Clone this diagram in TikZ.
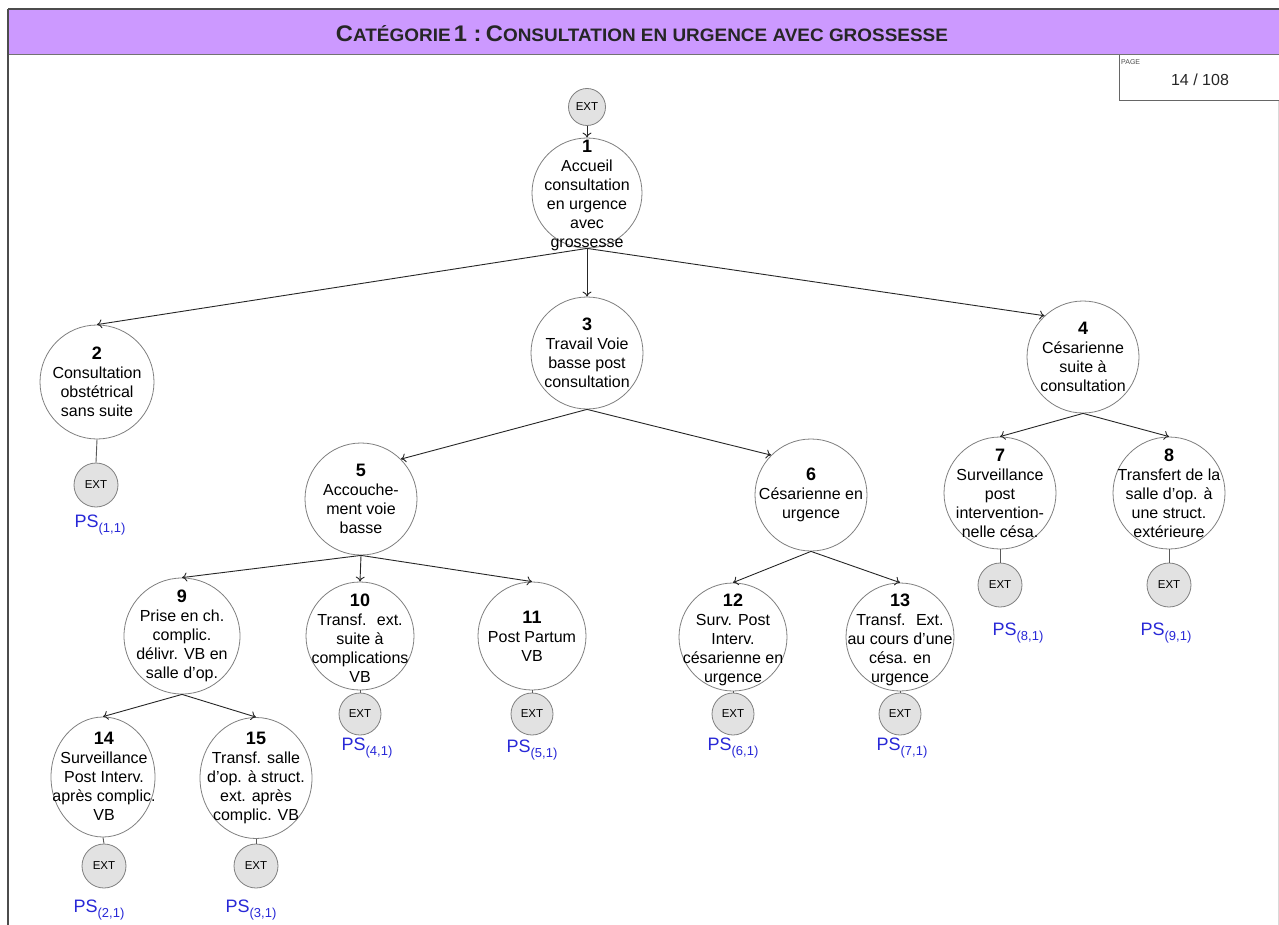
\documentclass[tikz,border=0pt]{standalone}
\usepackage{fontspec}
\setmainfont{Liberation Sans}
\usetikzlibrary{arrows.meta,shapes.geometric}
\definecolor{hdr}{RGB}{204,153,255}
\definecolor{psblue}{RGB}{40,40,215}
\definecolor{extfill}{RGB}{226,226,226}
\tikzset{
 circ/.style={circle,draw=black!50,line width=0.8pt,fill=white,minimum size=112pt,inner sep=0pt},
 ovl/.style={ellipse,draw=black!50,line width=0.8pt,fill=white,inner sep=0pt},
 ext/.style={circle,draw=black!50,line width=0.8pt,fill=extfill,minimum size=42pt,inner sep=0pt,font=\fontsize{11.5}{12}\selectfont},
 txt/.style={align=center,font=\fontsize{16}{19}\selectfont,inner sep=0pt},
 arr/.style={-{To[length=5pt,width=9pt]},line width=0.9pt,draw=black!85},
 lnk/.style={line width=0.9pt,draw=black!65},
 ps/.style={text=psblue,inner sep=0pt}
}
\newcommand\nb[1]{{\fontsize{18}{20}\selectfont\bfseries #1}}
\newcommand\psl[1]{{\fontsize{18}{18}\selectfont PS}\raisebox{-4.5pt}{\fontsize{13}{13}\selectfont(#1)}}
\newcommand\sca[2]{{\fontsize{20}{20}\selectfont #1}{\fontsize{16}{16}\selectfont #2}}
\begin{document}
\begin{tikzpicture}[x=1pt,y=-1pt]
\useasboundingbox (0,0) rectangle (1279,925);
\fill[white] (0,0) rectangle (1279,925);
% header
\fill[hdr] (8,9) rectangle (1279,55);
\draw[black!70,line width=1.5pt] (8,9) -- (1279,9);
\draw[black!55,line width=1pt] (8,55) -- (1279,55);
\draw[black!70,line width=1.5pt] (8,9) -- (8,925);
\draw[black!15,line width=1pt] (1278,101) -- (1278,925);
\node[inner sep=0pt,anchor=south,text=black!85] (title) at (642,42) {\resizebox{612pt}{16pt}{\bfseries\sca{C}{ATÉGORIE} {\fontsize{20}{20}\selectfont 1 :} \sca{C}{ONSULTATION EN URGENCE AVEC GROSSESSE}}};
% page box
\draw[black!60,line width=1pt] (1280,101) -- (1119,101) -- (1119,55);
\node[anchor=north west,inner sep=0pt,font=\fontsize{7}{8}\selectfont,text=black!70] (pg) at (1121,59) {PAGE};
\node[inner sep=0pt,font=\fontsize{16}{18}\selectfont,text=black!85] (pgn) at (1200,80) {14 / 108};
% circles
\node[ext,minimum size=37pt] (e0) at (587,107) {EXT};
\node[circ,minimum size=110pt] (n1) at (587,193) {};
\node[circ,minimum size=114pt] (n2) at (97,382) {};
\node[circ] (n3) at (587,353) {};
\node[circ] (n4) at (1083,357) {};
\node[circ] (n5) at (361,499) {};
\node[circ] (n6) at (811,495) {};
\node[circ] (n7) at (1000,493) {};
\node[circ] (n8) at (1169,493) {};
\node[circ,minimum size=116pt] (n9) at (182,636) {};
\node[circ,minimum size=108pt] (n10) at (360,636) {};
\node[circ,minimum size=108pt] (n11) at (532,636) {};
\node[circ,minimum size=108pt] (n12) at (733,637) {};
\node[circ,minimum size=108pt] (n13) at (900,637) {};
\node[ovl,minimum width=104pt,minimum height=120pt] (n14) at (103,777) {};
\node[ovl,minimum width=112pt,minimum height=121pt] (n15) at (256,778) {};
% EXT leaves
\node[ext,minimum size=44pt] (e2) at (96,485) {EXT};
\node[ext,minimum size=44pt] (e7) at (1000,585) {EXT};
\node[ext,minimum size=44pt] (e8) at (1169,585) {EXT};
\node[ext] (e10) at (360,714) {EXT};
\node[ext] (e11) at (532,714) {EXT};
\node[ext] (e12) at (733,714) {EXT};
\node[ext] (e13) at (900,714) {EXT};
\node[ext,minimum size=44pt] (e14) at (104,866) {EXT};
\node[ext,minimum size=44pt] (e15) at (256,866) {EXT};
% connectors
\draw[arr] (e0.south) -- (n1.north);
\draw[arr] (n1.south) -- (n2.north);
\draw[arr] (n1.south) -- (n3.north);
\draw[arr] (n1.south) -- (n4.133);
\draw[arr] (n3.south) -- (n5.45);
\draw[arr] (n3.south) -- (n6.135);
\draw[arr] (n4.south) -- (n7.north);
\draw[arr] (n4.south) -- (n8.north);
\draw[arr] (n5.south) -- (n9.north);
\draw[arr] (n5.south) -- (n10.north);
\draw[arr] (n5.south) -- (n11.north);
\draw[arr] (n6.south) -- (n12.north);
\draw[arr] (n6.south) -- (n13.north);
\draw[arr] (n9.south) -- (n14.north);
\draw[arr] (n9.south) -- (n15.north);
\draw[lnk] (n2.south) -- (e2.north);
\draw[lnk] (n7.south) -- (e7.north);
\draw[lnk] (n8.south) -- (e8.north);
\draw[lnk] (n10.south) -- (e10.north);
\draw[lnk] (n11.south) -- (e11.north);
\draw[lnk] (n12.south) -- (e12.north);
\draw[lnk] (n13.south) -- (e13.north);
\draw[lnk] (n14.south) -- (e14.north);
\draw[lnk] (n15.south) -- (e15.north);
% texts
\node[txt] (t1) at (587,195) {\nb{1}\\Accueil\\consultation\\en urgence\\avec\\grossesse};
\node[txt] (t2) at (97,382) {\nb{2}\\Consultation\\obstétrical\\sans suite};
\node[txt] (t3) at (587,353) {\nb{3}\\Travail Voie\\basse post\\consultation};
\node[txt] (t4) at (1083,357) {\nb{4}\\Césarienne\\suite à\\consultation};
\node[txt] (t5) at (361,499) {\nb{5}\\Accouche-\\ment voie\\basse};
\node[txt] (t6) at (811,495) {\nb{6}\\Césarienne en\\urgence};
\node[txt] (t7) at (1000,493) {\nb{7}\\Surveillance\\post\\intervention-\\nelle césa.};
\node[txt] (t8) at (1169,493) {\nb{8}\\Transfert de la\\salle d’op. à\\une struct.\\extérieure};
\node[txt] (t9) at (182,636) {\nb{9}\\Prise en ch.\\complic.\\délivr. VB en\\salle d’op.};
\node[txt] (t10) at (360,638) {\nb{10}\\Transf.~ ext.\\suite à\\complications\\VB};
\node[txt] (t11) at (532,636) {\nb{11}\\Post Partum\\VB};
\node[txt] (t12) at (733,640) {\nb{12}\\Surv. Post\\Interv.\\césarienne en\\urgence};
\node[txt] (t13) at (900,640) {\nb{13}\\Transf.~ Ext.\\au cours d’une\\césa. en\\urgence};
\node[txt] (t14) at (104,776) {\nb{14}\\Surveillance\\Post Interv.\\après complic.\\VB};
\node[txt] (t15) at (256,778) {\nb{15}\\Transf. salle\\d’op. à struct.\\ext. après\\complic. VB};
% PS labels
\node[ps] (p1) at (100,525) {\psl{1,1}};
\node[ps] (p2) at (99,910) {\psl{2,1}};
\node[ps] (p3) at (251,910) {\psl{3,1}};
\node[ps] (p4) at (367,748) {\psl{4,1}};
\node[ps] (p5) at (532,750) {\psl{5,1}};
\node[ps] (p6) at (733,748) {\psl{6,1}};
\node[ps] (p7) at (902,748) {\psl{7,1}};
\node[ps] (p8) at (1018,633) {\psl{8,1}};
\node[ps] (p9) at (1166,633) {\psl{9,1}};
\end{tikzpicture}
\end{document}
